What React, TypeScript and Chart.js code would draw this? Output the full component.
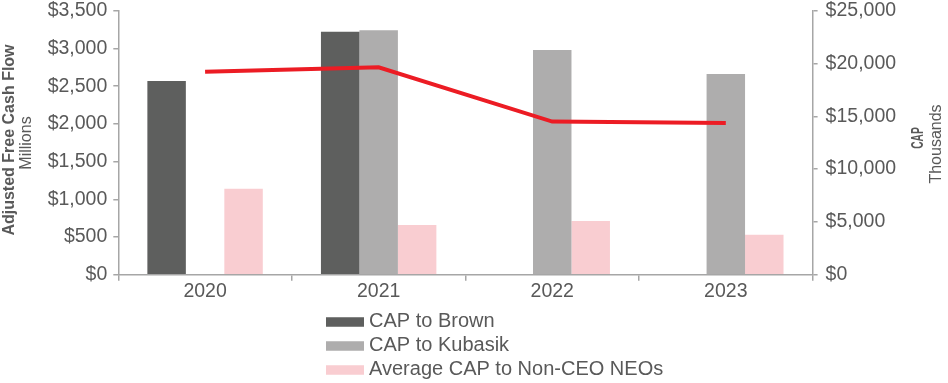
import React, { useEffect, useRef } from "react";
import { Chart, registerables } from "chart.js";

Chart.register(...registerables);

const years = ["2020", "2021", "2022", "2023"];
const capBrown = [18350, 23000, null, null];
const capKubasik = [null, 23150, 21280, 19000];
const capNonCeo = [8150, 4700, 5080, 3790];
const adjustedFcf = [2690, 2750, 2030, 2010];

const FONT = "'Liberation Sans', Arial, Helvetica, sans-serif";
const TEXT = "#595959";
const AXIS = "#a6a6a6";

const fmt = (v: number) => "$" + Number(v).toLocaleString("en-US");

const extrasPlugin = {
  id: "extras",
  afterDraw(chart: any) {
    const ctx = chart.ctx as CanvasRenderingContext2D;
    ctx.save();
    ctx.fillStyle = TEXT;
    ctx.textAlign = "center";
    ctx.textBaseline = "middle";
    const drawRot = (text: string, x: number, y: number, font: string, sx = 1) => {
      ctx.save();
      ctx.translate(x, y);
      ctx.rotate(-Math.PI / 2);
      ctx.scale(sx, 1);
      ctx.font = font;
      ctx.fillText(text, 0, 0);
      ctx.restore();
    };
    drawRot("Adjusted Free Cash Flow", 10, 140, `bold 16px ${FONT}`);
    drawRot("Millions", 27, 143, `16px ${FONT}`);
    drawRot("CAP", 918.5, 138, `bold 16.5px ${FONT}`, 0.62);
    drawRot("Thousands", 937, 144, `16px ${FONT}`);

    // legend (bar datasets only)
    const items = chart.data.datasets.filter((d: any) => d.type !== "line");
    ctx.textAlign = "left";
    ctx.font = `20px ${FONT}`;
    items.forEach((d: any, i: number) => {
      const cy = 322 + i * 24;
      ctx.fillStyle = d.backgroundColor;
      ctx.fillRect(326, cy - 4.75, 38, 9.5);
      ctx.fillStyle = TEXT;
      ctx.fillText(d.label, 369, cy - 1);
    });
    ctx.restore();
  },
};

export default function App() {
  const ref = useRef<HTMLCanvasElement>(null);
  useEffect(() => {
    if (!ref.current) return;
    const tickFont = { family: FONT, size: 19.5, lineHeight: 1.1 };
    const chart = new Chart(ref.current, {
      type: "bar",
      data: {
        labels: years,
        datasets: [
          {
            type: "line",
            label: "Adjusted Free Cash Flow",
            data: adjustedFcf,
            yAxisID: "y",
            borderColor: "#ec1c24",
            backgroundColor: "#ec1c24",
            borderWidth: 4,
            pointRadius: 0,
            tension: 0,
            order: 0,
          } as any,
          {
            label: "CAP to Brown",
            data: capBrown,
            yAxisID: "y1",
            backgroundColor: "#5e5f5e",
            order: 1,
          },
          {
            label: "CAP to Kubasik",
            data: capKubasik,
            yAxisID: "y1",
            backgroundColor: "#aeadad",
            order: 1,
          },
          {
            label: "Average CAP to Non-CEO NEOs",
            data: capNonCeo,
            yAxisID: "y1",
            backgroundColor: "#f9cdd1",
            order: 1,
          },
        ],
      },
      options: {
        animation: false,
        responsive: false,
        devicePixelRatio: 1,
        layout: { padding: 0 },
        datasets: {
          bar: { categoryPercentage: 0.665, barPercentage: 1.0 },
        },
        plugins: {
          legend: { display: false },
          tooltip: { enabled: false },
          title: { display: false },
        },
        scales: {
          x: {
            offset: true,
            grid: {
              offset: true,
              drawOnChartArea: false,
              drawTicks: true,
              tickLength: 6,
              color: AXIS,
              lineWidth: 1.5,
            },
            border: { color: AXIS, width: 1.5 },
            ticks: { color: TEXT, font: tickFont, padding: 0 },
            afterFit: (s: any) => {
              s.height = 108.3;
            },
          },
          y: {
            position: "left",
            min: 0,
            max: 3500,
            grid: {
              drawOnChartArea: false,
              drawTicks: true,
              tickLength: 5,
              color: AXIS,
              lineWidth: 1.5,
            },
            border: { color: AXIS, width: 1.5 },
            ticks: {
              stepSize: 500,
              color: TEXT,
              font: tickFont,
              padding: 6,
              callback: (v: any) => fmt(v),
            },
            afterFit: (s: any) => {
              s.width = 118.3;
              s.paddingTop = 10.7;
              s.paddingBottom = 0;
            },
          },
          y1: {
            position: "right",
            min: 0,
            max: 25000,
            grid: {
              drawOnChartArea: false,
              drawTicks: true,
              tickLength: 5,
              color: AXIS,
              lineWidth: 1.5,
            },
            border: { color: AXIS, width: 1.5 },
            ticks: {
              stepSize: 5000,
              color: TEXT,
              font: tickFont,
              padding: 8,
              callback: (v: any) => fmt(v),
            },
            afterFit: (s: any) => {
              s.width = 948 - 812.6;
              s.paddingTop = 10.7;
              s.paddingBottom = 0;
            },
          },
        },
      },
      plugins: [extrasPlugin],
    });
    return () => chart.destroy();
  }, []);
  return (
    <div style={{ position: "fixed", left: 0, top: 0, width: 948, height: 383, background: "#fff" }}>
      <canvas ref={ref} width={948} height={383} style={{ display: "block", width: 948, height: 383 }} />
    </div>
  );
}
